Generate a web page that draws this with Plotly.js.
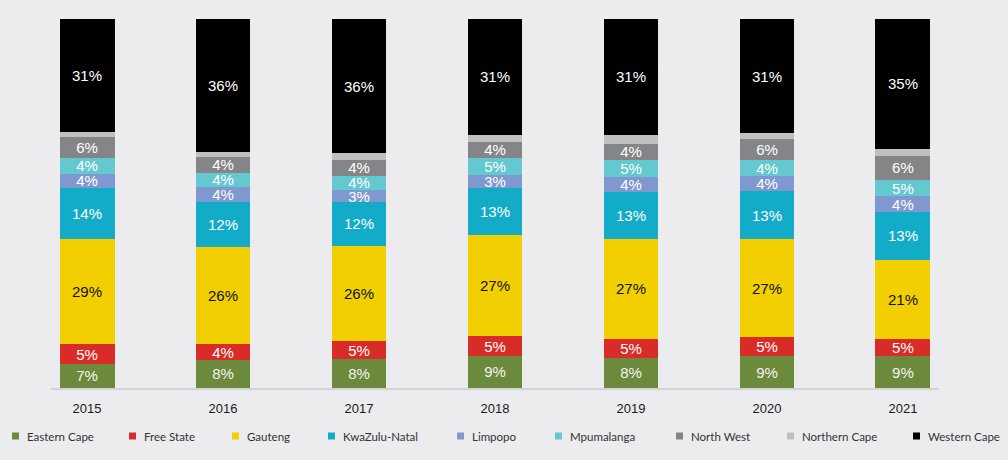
<!DOCTYPE html>
<html>
<head>
<meta charset="utf-8">
<script src="https://cdn.plot.ly/plotly-3.0.1.min.js"></script>
<style>
  html, body { margin: 0; padding: 0; background: #ececee; }
  #chart { width: 1008px; height: 460px; }
</style>
</head>
<body>
<div id="chart"></div>
<script>
const years = ['2015', '2016', '2017', '2018', '2019', '2020', '2021'];
const easternCape  = [6.6, 7.6, 7.8, 8.7, 8.2, 8.6, 8.6];
const freeState    = [5.2, 4.3, 4.9, 5.3, 5.2, 5.1, 4.8];
const gauteng      = [28.7, 26.2, 25.9, 27.4, 26.9, 26.6, 21.3];
const kwaZuluNatal = [13.7, 12.2, 11.7, 12.9, 12.9, 13.0, 13.1];
const limpopo      = [3.9, 4.1, 3.4, 3.3, 4.0, 4.1, 4.1];
const mpumalanga   = [4.2, 4.0, 3.8, 4.8, 4.6, 4.4, 4.6];
const northWest    = [5.6, 4.1, 4.4, 4.4, 4.4, 5.6, 6.4];
const northernCape = [1.6, 1.5, 1.7, 1.8, 2.4, 1.6, 1.9];
const westernCape  = [30.5, 36.0, 36.4, 31.4, 31.4, 31.0, 35.2];

const series = [
  {name: 'Eastern Cape',  values: easternCape,  color: '#6b8a3c', text: '#f4f4f0', label: true},
  {name: 'Free State',    values: freeState,    color: '#d92b27', text: '#ffffff', label: true},
  {name: 'Gauteng',       values: gauteng,      color: '#f2cf00', text: '#111111', label: true},
  {name: 'KwaZulu-Natal', values: kwaZuluNatal, color: '#12acc9', text: '#ffffff', label: true},
  {name: 'Limpopo',       values: limpopo,      color: '#7f98cf', text: '#ffffff', label: true},
  {name: 'Mpumalanga',    values: mpumalanga,   color: '#63c8cf', text: '#ffffff', label: true},
  {name: 'North West',    values: northWest,    color: '#858587', text: '#ffffff', label: true},
  {name: 'Northern Cape', values: northernCape, color: '#c0c0c2', text: '#ffffff', label: false},
  {name: 'Western Cape',  values: westernCape,  color: '#000000', text: '#ffffff', label: true}
];

// legend layout (pixel positions of each legend text start in the page)
const legendTextPx = [27, 144, 247, 343, 472, 570, 691, 802, 928];
const legendYPx = 436;

// plot area in pixels
const W = 1008, H = 460;
const M = {l: 51, r: 69, t: 19, b: 72};
const plotW = W - M.l - M.r, plotH = H - M.t - M.b;
const pxToPaperX = px => (px - M.l) / plotW;
const pxToPaperY = py => (H - M.b - py) / plotH;

const traces = series.map(s => ({
  type: 'bar',
  x: years,
  y: s.values,
  name: s.name,
  showlegend: false,
  marker: {color: s.color, line: {width: 0}},
  texttemplate: s.label ? '%{y:.0f}%' : '',
  textposition: s.label ? 'inside' : 'none',
  insidetextanchor: 'middle',
  constraintext: 'none',
  textangle: 0,
  textfont: {family: 'Liberation Sans, Arial, sans-serif', size: 15, color: s.text},
  hoverinfo: 'x+y+name'
}));

const annotations = [];
const shapes = [];
series.forEach((s, i) => {
  const tx = legendTextPx[i];
  annotations.push({
    xref: 'paper', yref: 'paper',
    x: pxToPaperX(tx - 2), y: pxToPaperY(legendYPx),
    xanchor: 'left', yanchor: 'middle',
    text: s.name, showarrow: false,
    font: {family: 'Lato, Noto Sans, sans-serif', size: 11.5, color: '#333333'}
  });
  shapes.push({
    type: 'rect', xref: 'paper', yref: 'paper',
    x0: pxToPaperX(tx - 15), x1: pxToPaperX(tx - 8),
    y0: pxToPaperY(legendYPx + 3.5), y1: pxToPaperY(legendYPx - 3.5),
    fillcolor: s.color, line: {width: 0}
  });
});

const layout = {
  width: W,
  height: H,
  paper_bgcolor: '#ececee',
  plot_bgcolor: '#ececee',
  barmode: 'stack',
  bargap: 0.596,
  margin: M,
  xaxis: {
    type: 'category',
    range: [-0.265, 6.265],
    showline: true,
    linecolor: '#d2d2d4',
    linewidth: 2,
    showgrid: false,
    zeroline: false,
    ticks: '',
    ticklabelstandoff: 7,
    tickfont: {family: 'Liberation Sans, Arial, sans-serif', size: 13, color: '#1a1a1a'},
    fixedrange: true
  },
  yaxis: {
    range: [0, 100],
    visible: false,
    showgrid: false,
    zeroline: false,
    fixedrange: true
  },
  showlegend: false,
  annotations: annotations,
  shapes: shapes
};

Plotly.newPlot('chart', traces, layout, {displayModeBar: false, staticPlot: true});
</script>
</body>
</html>
